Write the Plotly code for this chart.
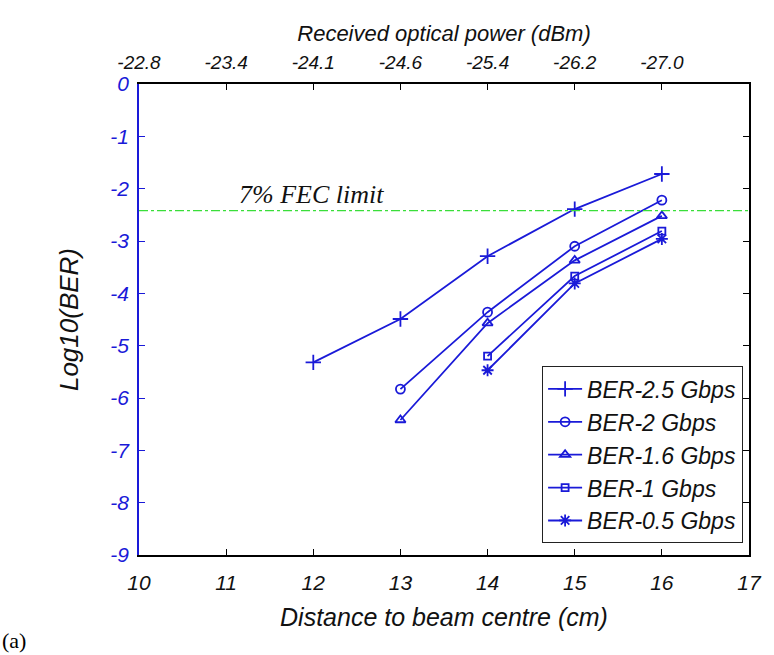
import plotly.graph_objects as go

distance = [12, 13, 14, 15, 16]
ber_25 = [-5.32, -4.49, -3.29, -2.39, -1.72]
dist_2 = [13, 14, 15, 16]
ber_2 = [-5.83, -4.36, -3.10, -2.22]
dist_16 = [13, 14, 15, 16]
ber_16 = [-6.42, -4.57, -3.37, -2.52]
dist_1 = [14, 15, 16]
ber_1 = [-5.20, -3.67, -2.81]
dist_05 = [14, 15, 16]
ber_05 = [-5.47, -3.81, -2.96]
fec_limit = -2.42

x_ticks = [10, 11, 12, 13, 14, 15, 16, 17]
y_ticks = [0, -1, -2, -3, -4, -5, -6, -7, -8, -9]
y_ticktext = ["0", "-1", "-2", "-3", "-4", "-5", "-6", "-7", "-8", "-9"]
top_tickvals = [10, 11, 12, 13, 14, 15, 16]
top_ticktext = ["-22.8", "-23.4", "-24.1", "-24.6", "-25.4", "-26.2", "-27.0"]

BLUE = "#1a1ad8"
series = [
    ("BER-2.5 Gbps", distance, ber_25, "cross-thin-open", 11),
    ("BER-2 Gbps", dist_2, ber_2, "circle-open", 9),
    ("BER-1.6 Gbps", dist_16, ber_16, "triangle-up-open", 9),
    ("BER-1 Gbps", dist_1, ber_1, "square-open", 7),
    ("BER-0.5 Gbps", dist_05, ber_05, "asterisk-open", 10),
]

fig = go.Figure()
for name, xs, ys, sym, sz in series:
    fig.add_trace(go.Scatter(
        x=xs, y=ys, name=name, mode="lines+markers",
        line=dict(color=BLUE, width=1.8),
        marker=dict(symbol=sym, size=sz, color=BLUE, line=dict(color=BLUE, width=1.8)),
    ))

# FEC limit line
fig.add_trace(go.Scatter(
    x=[10, 17], y=[fec_limit, fec_limit], mode="lines",
    line=dict(color="#3ade3a", width=1.3, dash="dashdot"),
    showlegend=False, hoverinfo="skip",
))

# invisible trace for secondary axes
fig.add_trace(go.Scatter(x=[10, 17], y=[0, -9], xaxis="x2", yaxis="y2", mode="markers",
                         marker=dict(opacity=0), showlegend=False, hoverinfo="skip"))

font_it = "Liberation Sans"
fig.update_layout(
    width=774, height=655,
    margin=dict(l=139, r=19, t=84, b=100),
    paper_bgcolor="white", plot_bgcolor="white",
    showlegend=True,
    legend=dict(
        x=0.99, y=0.025, xanchor="right", yanchor="bottom",
        bgcolor="white", bordercolor="#222222", borderwidth=1.2,
        font=dict(family=font_it, size=23, color="#111111", style="italic"),
        itemwidth=34, tracegroupgap=0,
    ),
    xaxis=dict(
        range=[10, 17], tickvals=x_ticks,
        showgrid=False, zeroline=False,
        showline=True, linecolor="black", linewidth=1.5,
        ticks="inside", ticklen=6, tickcolor="black",
        ticklabelstandoff=8,
        tickfont=dict(family=font_it, size=21, color="#111111", style="italic"),
        title=dict(text="Distance to beam centre (cm)",
                   font=dict(family=font_it, size=25, color="#111111", style="italic"),
                   standoff=16),
    ),
    xaxis2=dict(
        overlaying="x", side="top", range=[10, 17],
        tickvals=top_tickvals, ticktext=top_ticktext,
        showgrid=False, zeroline=False,
        showline=True, linecolor="black", linewidth=1.5,
        ticks="inside", ticklen=6, tickcolor="black",
        ticklabelstandoff=6,
        tickfont=dict(family=font_it, size=19, color="#111111", style="italic"),
        title=dict(text="Received optical power (dBm)",
                   font=dict(family=font_it, size=22, color="#111111", style="italic"),
                   standoff=4),
    ),
    yaxis=dict(
        range=[-9, 0], tickvals=y_ticks, ticktext=y_ticktext,
        showgrid=False, zeroline=False,
        showline=True, linecolor=BLUE, linewidth=1.8,
        ticks="inside", ticklen=6, tickcolor=BLUE,
        ticklabelstandoff=4,
        tickfont=dict(family=font_it, size=21, color=BLUE, style="italic"),
        title=dict(text="Log10(BER)",
                   font=dict(family=font_it, size=26, color="#111111", style="italic"),
                   standoff=24),
    ),
    yaxis2=dict(
        overlaying="y", side="right", range=[-9, 0], tickvals=y_ticks,
        showgrid=False, zeroline=False, showticklabels=False,
        showline=True, linecolor="black", linewidth=1.5,
        ticks="inside", ticklen=6, tickcolor="black",
    ),
)

fig.add_annotation(
    x=11.12, y=fec_limit, xref="x", yref="y", text="7% FEC limit",
    showarrow=False, xanchor="left", yanchor="bottom", yshift=0,
    font=dict(family="Liberation Serif", size=26, color="#111111", style="italic"),
)
fig.add_annotation(
    x=0, y=0, xref="paper", yref="paper", text="(a)",
    showarrow=False, xanchor="left", yanchor="bottom",
    xshift=-139, yshift=-100,
    font=dict(family="Liberation Serif", size=22, color="black"),
)

fig.write_html("out.html")
